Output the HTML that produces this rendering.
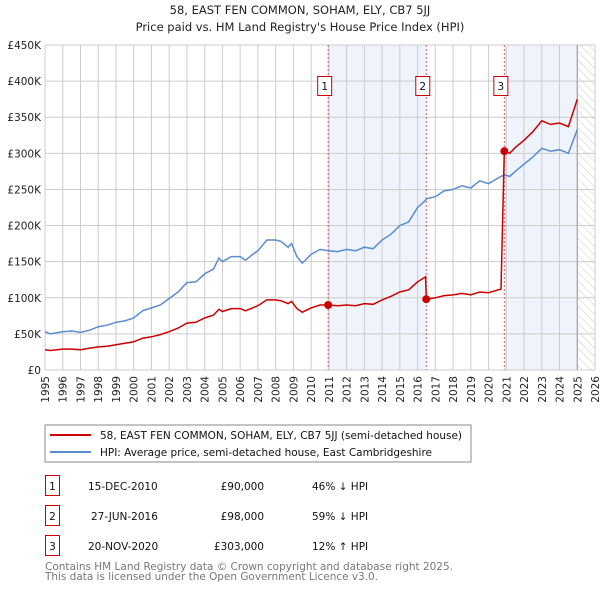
<!DOCTYPE html>
<html><head><meta charset="utf-8"><style>
body{margin:0;background:#fff;font-family:"DejaVu Sans","Liberation Sans",sans-serif;}
svg text{font-family:"DejaVu Sans","Liberation Sans",sans-serif;}
</style></head><body>
<svg id="c" width="600" height="590" xmlns="http://www.w3.org/2000/svg">
<defs><pattern id="hatch" width="6" height="6" patternUnits="userSpaceOnUse" patternTransform="rotate(-45)"><line x1="0" y1="0" x2="0" y2="6" stroke="#ccc" stroke-width="1"/></pattern></defs>
<text x="300" y="14" text-anchor="middle" font-size="11.5" fill="#222">58, EAST FEN COMMON, SOHAM, ELY, CB7 5JJ</text>
<text x="300" y="31" text-anchor="middle" font-size="11.5" fill="#222">Price paid vs. HM Land Registry's House Price Index (HPI)</text>
<g id="plot"></g>
<rect x="45" y="425" width="426" height="37" fill="#fff" stroke="#888"/>
<line x1="50" y1="435" x2="91" y2="435" stroke="#cc0000" stroke-width="2"/>
<text x="100" y="439" font-size="10.5" fill="#111" textLength="362" lengthAdjust="spacingAndGlyphs">58, EAST FEN COMMON, SOHAM, ELY, CB7 5JJ (semi-detached house)</text>
<line x1="50" y1="452" x2="91" y2="452" stroke="#5b8bd0" stroke-width="2"/>
<text x="100" y="456" font-size="10.5" fill="#111" textLength="332" lengthAdjust="spacingAndGlyphs">HPI: Average price, semi-detached house, East Cambridgeshire</text>
<g font-size="10.5" fill="#111">
<rect x="45.5" y="475.5" width="14" height="20" fill="none" stroke="#cc0000"/><text x="52.5" y="490" text-anchor="middle">1</text>
<text x="88" y="490">15-DEC-2010</text><text x="264" y="490" text-anchor="end">£90,000</text><text x="312" y="490">46% ↓ HPI</text>
<rect x="45.5" y="505.5" width="14" height="20" fill="none" stroke="#cc0000"/><text x="52.5" y="520" text-anchor="middle">2</text>
<text x="91" y="520">27-JUN-2016</text><text x="264" y="520" text-anchor="end">£98,000</text><text x="312" y="520">59% ↓ HPI</text>
<rect x="45.5" y="535.5" width="14" height="20" fill="none" stroke="#cc0000"/><text x="52.5" y="550" text-anchor="middle">3</text>
<text x="88" y="550">20-NOV-2020</text><text x="264" y="550" text-anchor="end">£303,000</text><text x="312" y="550">12% ↑ HPI</text>
</g>
<text x="45" y="570" font-size="10.5" fill="#777" textLength="408" lengthAdjust="spacingAndGlyphs">Contains HM Land Registry data © Crown copyright and database right 2025.</text>
<text x="45" y="580" font-size="10.5" fill="#777" textLength="333" lengthAdjust="spacingAndGlyphs">This data is licensed under the Open Government Licence v3.0.</text>
</svg>
<script>
const dates=[1995.0,1995.3,1996.0,1996.5,1997.0,1997.5,1998.0,1998.5,1999.0,1999.5,2000.0,2000.5,2001.0,2001.5,2002.0,2002.5,2003.0,2003.5,2004.0,2004.5,2004.8,2005.0,2005.5,2006.0,2006.3,2006.7,2007.0,2007.5,2008.0,2008.3,2008.7,2008.9,2009.2,2009.5,2010.0,2010.5,2010.96,2011.5,2012.0,2012.5,2013.0,2013.5,2014.0,2014.5,2015.0,2015.5,2016.0,2016.45,2016.49,2017.0,2017.5,2018.0,2018.5,2019.0,2019.5,2020.0,2020.7,2020.89,2021.2,2021.5,2022.0,2022.5,2023.0,2023.5,2024.0,2024.5,2025.0];
const hpiValues=[53,50,53,54,52,55,60,62,66,68,72,82,86,90,99,108,121,122,133,140,155,150,157,157,152,160,165,180,180,178,170,175,157,148,160,167,165,164,167,165,170,168,180,188,200,205,225,235,237,240,248,250,255,252,262,258,268,270,268,275,285,295,307,303,305,300,333];
const priceValues=[28,27,29,29,28,30,32,33,35,37,39,44,46,49,53,58,65,66,72,76,84,81,85,85,82,86,89,97,97,96,92,95,85,80,86,90,90,89,90,89,92,91,97,102,108,111,122,129,98,100,103,104,106,104,108,107,112,303,300,308,318,330,345,340,342,337,375];
const saleDates=[2010.96,2016.49,2020.89];
const saleValues=[90,98,303];
const saleLabels=["1","2","3"];
const yTicks=[0,50,100,150,200,250,300,350,400,450];
const yTickLabels=["£0","£50K","£100K","£150K","£200K","£250K","£300K","£350K","£400K","£450K"];
const xYears=[1995,1996,1997,1998,1999,2000,2001,2002,2003,2004,2005,2006,2007,2008,2009,2010,2011,2012,2013,2014,2015,2016,2017,2018,2019,2020,2021,2022,2023,2024,2025,2026];
const dataEnd=2025.0;

const L=45,R=595,T=45,B=370;
const X=d=>L+(d-1995)/(2026-1995)*(R-L);
const Y=v=>B-v/450*(B-T);
const NS="http://www.w3.org/2000/svg";
const g=document.getElementById('plot');
function mk(tag,attrs,parent){const e=document.createElementNS(NS,tag);for(const k in attrs)e.setAttribute(k,attrs[k]);(parent||g).appendChild(e);return e;}

let e=mk('rect',{x:X(saleDates[0]),y:T,width:X(saleDates[1])-X(saleDates[0]),height:B-T,fill:'#eef3fc'});


e=mk('rect',{x:X(saleDates[2]),y:T,width:X(dataEnd)-X(saleDates[2]),height:B-T,fill:'#eef3fc'});


e=mk('rect',{x:X(dataEnd),y:T,width:R-X(dataEnd),height:B-T,fill:'url(#hatch)'});



xYears.forEach(yr=>{
  const l=mk('line',{x1:X(yr),y1:T,x2:X(yr),y2:B,stroke:'#ccc','stroke-width':1});
  
  
  const t=mk('text',{x:0,y:0,'font-size':10.5,fill:'#222','text-anchor':'end',transform:`translate(${X(yr)+4},${B+6}) rotate(-90)`});
  t.textContent=yr;
  
  
});
yTicks.forEach((v,i)=>{
  const l=mk('line',{x1:L,y1:Y(v),x2:R,y2:Y(v),stroke:'#ccc','stroke-width':1});
  
  
  const t=mk('text',{x:L-4,y:Y(v)+4,'font-size':10.5,fill:'#222','text-anchor':'end'});
  t.textContent=yTickLabels[i];
  
  
});
e=mk('line',{x1:X(dataEnd),y1:T,x2:X(dataEnd),y2:B,stroke:'#999','stroke-width':1});



saleDates.forEach((d,i)=>{
  const l=mk('line',{x1:X(d),y1:T,x2:X(d),y2:B,stroke:'#e06060','stroke-width':1,'stroke-dasharray':'2,2'});
  
  
  const r=mk('rect',{x:X(d)-10.5,y:76.5,width:14,height:19,fill:'#fff',stroke:'#cc0000'});
  
  
  const t=mk('text',{x:X(d)-3.5,y:90,'font-size':10.5,fill:'#111','text-anchor':'middle'});
  t.textContent=saleLabels[i];
  
  
});

const pts=a=>dates.map((d,i)=>X(d).toFixed(1)+','+Y(a[i]).toFixed(1)).join(' ');
e=mk('polyline',{points:pts(hpiValues),fill:'none',stroke:'#5b8bd0','stroke-width':1.5});


e=mk('polyline',{points:pts(priceValues),fill:'none',stroke:'#cc0000','stroke-width':1.5});


saleDates.forEach((d,i)=>{
  const c=mk('circle',{cx:X(d),cy:Y(saleValues[i]),r:4,fill:'#cc0000'});
  
  
});
</script>
</body></html>
